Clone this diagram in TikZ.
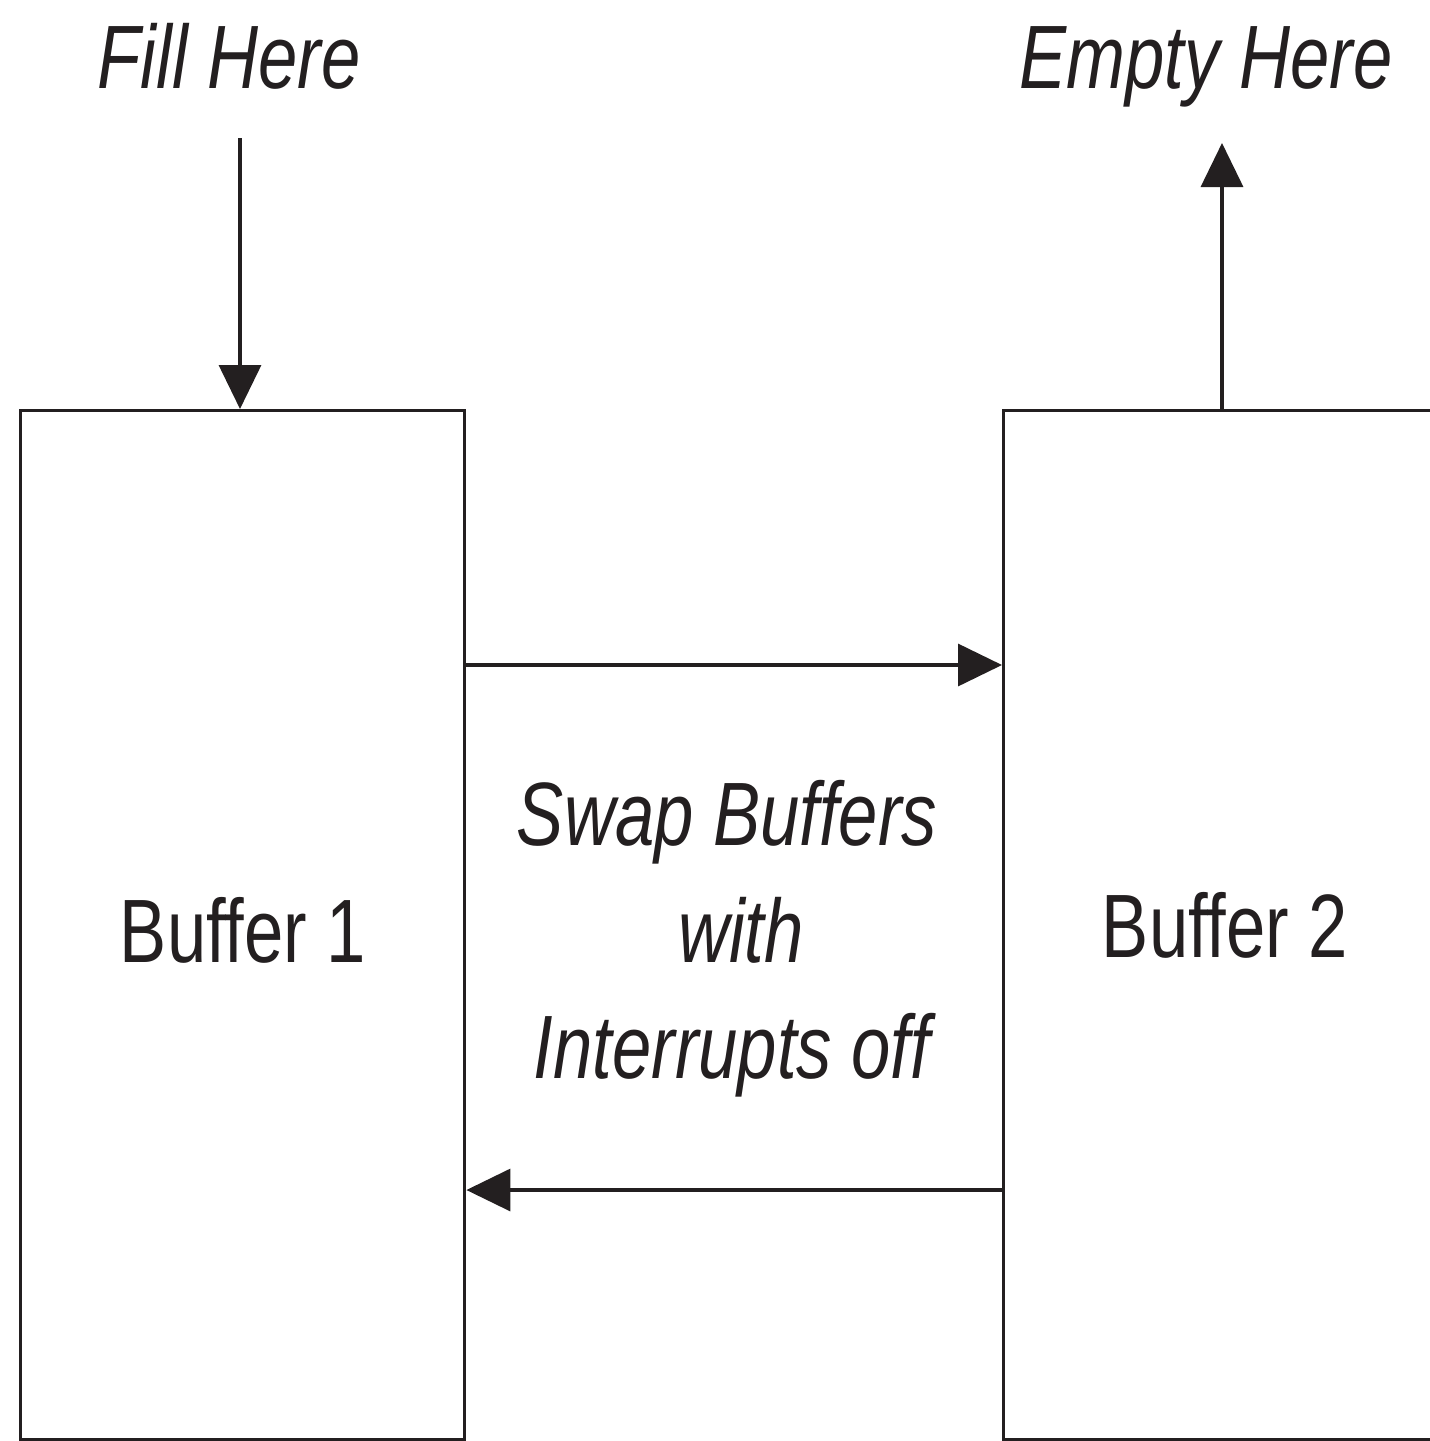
\documentclass[tikz,border=0pt]{standalone}
\usepackage{fontspec}
\setmainfont{Liberation Sans}[FakeStretch=0.785]
\usetikzlibrary{arrows.meta}
\definecolor{ink}{HTML}{231F20}
\tikzset{
  lbl/.style={font=\fontsize{45}{58}\selectfont\itshape, text=ink, anchor=base, inner sep=0pt},
  boxlbl/.style={font=\fontsize{45}{58}\selectfont, text=ink, anchor=base, inner sep=0pt},
  buf/.style={draw=ink, line width=1.7pt, inner sep=0pt, anchor=north west},
  arr/.style={draw=ink, line width=1.7pt, -{Triangle[length=22pt,width=21pt]}},
}
\begin{document}
\begin{tikzpicture}[x=0.5pt,y=-0.5pt]
\useasboundingbox (0,0) rectangle (1430,1441);
\clip (0,0) rectangle (1430,1441);
% boxes
\node[buf, minimum width=222pt, minimum height=514.5pt] (b1) at (19,409) {};
\node[buf, minimum width=240pt, minimum height=514.5pt] (b2) at (1002,409) {};
% labels
\node[lbl] (fill) at (229,88) {Fill Here};
\node[lbl] (empty) at (1206,88) {Empty Here};
\node[boxlbl] (t1) at (243,962) {Buffer 1};
\node[boxlbl] (t2) at (1225,957) {Buffer 2};
\node[lbl] (s1) at (727,845) {Swap Buffers};
\node[lbl] (s2) at (741,962) {with};
\node[lbl] (s3) at (732,1078) {Interrupts off};
% connectors
\coordinate (fillsrc) at (240,138);
\coordinate (emptydst) at (1222,143);
\coordinate (yr) at (0,665);
\coordinate (yl) at (0,1190);
\draw[arr] (fillsrc) -- (fillsrc |- b1.north);
\draw[arr] (emptydst |- b2.north) -- (emptydst);
\draw[arr] (b1.east |- yr) -- (b2.west |- yr);
\draw[arr] (b2.west |- yl) -- (b1.east |- yl);
\end{tikzpicture}
\end{document}
